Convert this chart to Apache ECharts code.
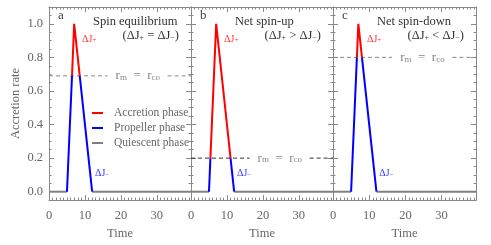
<!DOCTYPE html>
<html>
<head>
<meta charset="utf-8">
<script src="https://cdn.jsdelivr.net/npm/echarts@6/dist/echarts.min.js"></script>
<style>html,body{margin:0;padding:0;background:#fff}#c{width:491px;height:245px}</style>
</head>
<body>
<div id="c"></div>
<script>
// data
var xMax = 39.5;
var yTicks = [0, 0.2, 0.4, 0.6, 0.8, 1.0];
var yMinorTicks = [-0.05, 0, 0.05, 0.1, 0.15, 0.2, 0.25, 0.3, 0.35, 0.4, 0.45, 0.5, 0.55, 0.6, 0.65, 0.7, 0.75, 0.8, 0.85, 0.9, 0.95, 1.0, 1.05, 1.1];
var panelLetters = ['a', 'b', 'c'];
var panelTitles = ['Spin equilibrium', 'Net spin-up', 'Net spin-down'];
var panelConds = ['=', '>', '<'];
var thresholds = [0.69, 0.2, 0.8];
var dashSegs = [[0, 16.3], [33, 39.5]];
var quietSegs = [[[0, 0], [5, 0]], [[12, 0], [39.5, 0]]];
var propA = [[[5, 0], [6.4, 0.69]], [[8.55, 0.69], [12, 0]]];
var accA = [[6.4, 0.69], [7, 1], [8.55, 0.69]];
var propB = [[[5, 0], [5.4, 0.2]], [[11, 0.2], [12, 0]]];
var accB = [[5.4, 0.2], [7, 1], [11, 0.2]];
var propC = [[[5, 0], [6.6, 0.8]], [[8, 0.8], [12, 0]]];
var accC = [[6.6, 0.8], [7, 1], [8, 0.8]];
var propSegs = [propA, propB, propC];
var accPts = [accA, accB, accC];
var rLabelX = 24.7;
var jPlusPos = [[9.2, 0.91], [9.2, 0.91], [9.4, 0.91]];
var jMinusPos = [[12.8, 0.11], [12.8, 0.11], [12.8, 0.11]];

var FONT = 'Liberation Serif';
var TXT = '#666';
var AX = '#888';
var lefts = [49, 191, 333];
var widths = [142, 142, 143];
var titleLefts = [93, 235, 377];
var dashColors = ['#888', '#333', '#888'];

var chart = echarts.init(document.getElementById('c'));
var grids = [], xAxes = [], yAxes = [], series = [], titles = [];

for (var i = 0; i < 3; i++) {
    grids.push({left: lefts[i], top: 7, width: widths[i], height: 198});
    // bottom + top x axes
    xAxes.push({
        gridIndex: i, type: 'value', min: 0, max: xMax, interval: 10, position: 'bottom',
        axisLine: {onZero: false, lineStyle: {color: AX}},
        axisTick: {inside: true, length: 5, lineStyle: {color: AX}},
        minorTick: {show: true, splitNumber: 10, length: 2.5, lineStyle: {color: AX}},
        splitLine: {show: false},
        axisLabel: {color: TXT, fontFamily: FONT, fontSize: 12.5, margin: 9, showMaxLabel: false},
        name: 'Time', nameLocation: 'middle', nameGap: 26,
        nameTextStyle: {color: TXT, fontFamily: FONT, fontSize: 12.5}
    });
    xAxes.push({
        gridIndex: i, type: 'value', min: 0, max: xMax, interval: 10, position: 'top',
        axisLine: {onZero: false, lineStyle: {color: AX}},
        axisTick: {inside: true, length: 5, lineStyle: {color: AX}},
        minorTick: {show: true, splitNumber: 10, length: 2.5, lineStyle: {color: AX}},
        splitLine: {show: false}, axisLabel: {show: false}
    });
    ['left', 'right'].forEach(function (pos) {
        var withLabel = (i === 0 && pos === 'left');
        yAxes.push({
            gridIndex: i, type: 'value', min: -0.05, max: 1.1, interval: 0.05, position: pos,
            axisLine: {show: true, onZero: false, lineStyle: {color: AX}},
            axisTick: {inside: true, length: 5, customValues: yTicks, lineStyle: {color: AX}},
            splitLine: {show: false},
            axisLabel: withLabel ? {
                show: true, customValues: yTicks, color: TXT, fontFamily: FONT, fontSize: 12.5, margin: 6,
                formatter: function (v) { return v.toFixed(1); }
            } : {show: false},
            name: withLabel ? 'Accretion rate' : '',
            nameLocation: 'middle', nameGap: 27, nameRotate: 90,
            nameTextStyle: {color: TXT, fontFamily: FONT, fontSize: 12.5}
        });
        yAxes.push({
            gridIndex: i, type: 'value', min: -0.05, max: 1.1, interval: 0.05, position: pos,
            axisLine: {show: false, onZero: false},
            axisTick: {inside: true, length: 2.5, customValues: yMinorTicks, lineStyle: {color: AX}},
            splitLine: {show: false}, axisLabel: {show: false}
        });
    });

    var xi = i * 2, yi = i * 4;
    quietSegs.forEach(function (seg) {
        series.push({
            name: 'Quiescent phase', type: 'line', xAxisIndex: xi, yAxisIndex: yi, data: seg,
            symbol: 'none', lineStyle: {color: '#808080', width: 2}, itemStyle: {color: '#808080'},
            z: 2, silent: true
        });
    });
    dashSegs.forEach(function (d) {
        series.push({
            type: 'line', xAxisIndex: xi, yAxisIndex: yi,
            data: [[d[0], thresholds[i]], [d[1], thresholds[i]]],
            symbol: 'none', lineStyle: {color: dashColors[i], width: 1, type: [4, 3]}, z: 1, silent: true
        });
    });
    propSegs[i].forEach(function (seg) {
        series.push({
            name: 'Propeller phase', type: 'line', xAxisIndex: xi, yAxisIndex: yi, data: seg,
            symbol: 'none', lineStyle: {color: '#0000ff', width: 2}, itemStyle: {color: '#0000ff'}, z: 3
        });
    });
    series.push({
        name: 'Accretion phase', type: 'line', xAxisIndex: xi, yAxisIndex: yi, data: accPts[i],
        symbol: 'none', lineStyle: {color: '#ff0000', width: 2}, itemStyle: {color: '#ff0000'}, z: 3
    });
    // text labels anchored to data coordinates
    series.push({
        type: 'scatter', xAxisIndex: xi, yAxisIndex: yi, symbolSize: 0, silent: true,
        data: [[rLabelX, thresholds[i]]],
        label: {
            show: true, position: 'inside', color: TXT, fontFamily: FONT, fontSize: 13,
            formatter: 'r{s|m}  =  r{s|co}',
            rich: {s: {fontSize: 9, fontFamily: FONT, color: TXT, verticalAlign: 'bottom', lineHeight: 10}}
        }
    });
    series.push({
        type: 'scatter', xAxisIndex: xi, yAxisIndex: yi, symbolSize: 0, silent: true,
        data: [jPlusPos[i]],
        label: {
            show: true, position: 'right', distance: 0, color: '#ff0000', fontFamily: FONT, fontSize: 10,
            formatter: 'ΔJ{s|+}', rich: {s: {fontSize: 7, color: '#ff0000', verticalAlign: 'bottom', lineHeight: 8}}
        }
    });
    series.push({
        type: 'scatter', xAxisIndex: xi, yAxisIndex: yi, symbolSize: 0, silent: true,
        data: [jMinusPos[i]],
        label: {
            show: true, position: 'right', distance: 0, color: '#0000ff', fontFamily: FONT, fontSize: 10,
            formatter: 'ΔJ{s|−}', rich: {s: {fontSize: 7, color: '#0000ff', verticalAlign: 'bottom', lineHeight: 8}}
        }
    });

    titles.push({
        text: panelLetters[i], left: lefts[i] + 9, top: 9, padding: 0,
        textStyle: {color: '#444', fontFamily: FONT, fontSize: 13, fontWeight: 'normal'}
    });
    titles.push({
        text: panelTitles[i], left: titleLefts[i], top: 15, padding: 0,
        textStyle: {color: '#333', fontFamily: FONT, fontSize: 12.5, fontWeight: 'normal'}
    });
    titles.push({
        text: '(ΔJ{s|+} ' + panelConds[i] + ' ΔJ{s|−})', right: 491 - lefts[i] - widths[i] + 12, top: 29, padding: 0,
        textStyle: {
            color: '#333', fontFamily: FONT, fontSize: 12.5, fontWeight: 'normal',
            rich: {s: {fontSize: 8, color: '#333', fontFamily: FONT, verticalAlign: 'bottom', lineHeight: 10}}
        }
    });
}

chart.setOption({
    animation: false,
    title: titles,
    grid: grids,
    xAxis: xAxes,
    yAxis: yAxes,
    legend: {
        data: ['Accretion phase', 'Propeller phase', 'Quiescent phase'],
        orient: 'vertical', left: 92, top: 107, itemWidth: 11, itemHeight: 2, itemGap: 3,
        icon: 'rect', padding: 0,
        textStyle: {color: TXT, fontFamily: FONT, fontSize: 11.5, padding: [0, 0, 0, 6]}
    },
    series: series
});
</script>
</body>
</html>
